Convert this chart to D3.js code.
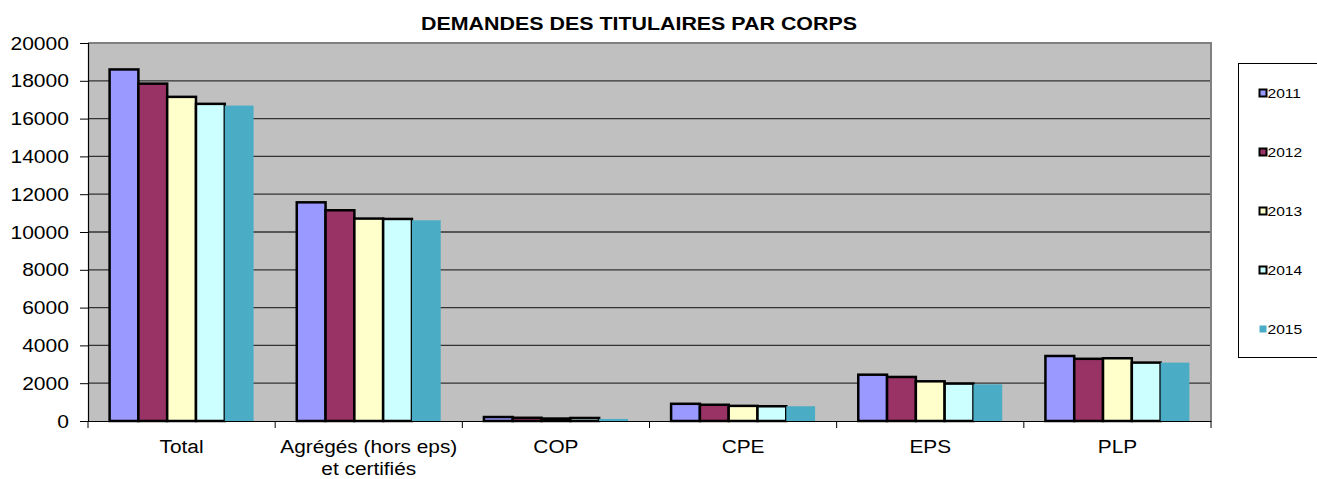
<!DOCTYPE html>
<html>
<head>
<meta charset="utf-8">
<script src="https://cdn.jsdelivr.net/npm/d3@7/dist/d3.min.js"></script>
<style>
  body { margin: 0; background: #fff; }
  text { font-family: "Liberation Sans", Arial, sans-serif; fill: #000; }
</style>
</head>
<body>
<svg id="chart" width="1317" height="479"></svg>
<script>
const categories = ["Total", "Agrégés (hors eps)\net certifiés", "COP", "CPE", "EPS", "PLP"];
const years = ["2011", "2012", "2013", "2014", "2015"];
const colors = ["#9999ff", "#993366", "#ffffcc", "#ccffff", "#4bacc6"];
const v2011 = [18600, 11570, 210, 910, 2450, 3440];
const v2012 = [17850, 11150, 170, 860, 2330, 3290];
const v2013 = [17150, 10710, 130, 800, 2100, 3320];
const v2014 = [16780, 10690, 160, 780, 1980, 3090];
const v2015 = [16690, 10620, 110, 780, 1940, 3090];
const yTicks = [0, 2000, 4000, 6000, 8000, 10000, 12000, 14000, 16000, 18000, 20000];

const series = [v2011, v2012, v2013, v2014, v2015];

// the source picture is a bit stretched sideways, so text is widened too
const SX = 1.17;
const place = (x, y) => `translate(${x},${y}) scale(${SX},1)`;

const plot = { left: 88, right: 1211, top: 43, bottom: 421 };
const svg = d3.select("#chart");

const x = d3.scaleBand().domain(categories).range([plot.left, plot.right]).paddingInner(0).paddingOuter(0);
const y = d3.scaleLinear().domain([0, 20000]).range([plot.bottom, plot.top]);
const sub = d3.scaleBand().domain(years).range([0, x.bandwidth()]).paddingOuter(0.75).paddingInner(0);

// title
svg.append("text")
  .attr("transform", place(639, 30))
  .attr("text-anchor", "middle")
  .attr("font-size", 18.3).attr("font-weight", "bold")
  .text("DEMANDES DES TITULAIRES PAR CORPS");

// plot background
svg.append("rect")
  .attr("x", plot.left).attr("y", plot.top)
  .attr("width", plot.right - plot.left).attr("height", plot.bottom - plot.top)
  .attr("fill", "#c0c0c0");

// grid lines
svg.append("g").selectAll("line")
  .data(yTicks.slice(1))
  .enter().append("line")
    .attr("x1", plot.left).attr("x2", plot.right)
    .attr("y1", d => y(d)).attr("y2", d => y(d))
    .attr("stroke", "#333").attr("stroke-width", 1.3);

// plot border top/right
svg.append("path")
  .attr("d", `M${plot.left},${plot.top}H${plot.right}V${plot.bottom}`)
  .attr("fill", "none").attr("stroke", "#808080").attr("stroke-width", 2);

// bars
series.forEach((vals, i) => {
  svg.append("g").selectAll("rect")
    .data(vals)
    .enter().append("rect")
      .attr("x", (d, j) => x(categories[j]) + sub(years[i]))
      .attr("y", d => y(d))
      .attr("width", sub.bandwidth())
      .attr("height", d => plot.bottom - y(d))
      .attr("fill", colors[i])
      .attr("stroke", i < 4 ? "#000" : "none")
      .attr("stroke-width", 2.5);
});

// y axis
const yAxis = svg.append("g")
  .attr("transform", `translate(${plot.left},0)`)
  .call(d3.axisLeft(y).tickValues(yTicks).tickSize(8).tickFormat(""));
yAxis.select(".domain").attr("stroke", "#000").attr("stroke-width", 1.2);
yAxis.selectAll(".tick line").attr("stroke", "#000");

svg.append("g").selectAll("text")
  .data(yTicks)
  .enter().append("text")
    .attr("transform", d => place(69, y(d) + 6.5))
    .attr("text-anchor", "end")
    .attr("font-size", 18)
    .text(d => d);

// x axis
const xAxis = svg.append("g")
  .attr("transform", `translate(0,${plot.bottom})`)
  .call(d3.axisBottom(x).tickSize(0).tickFormat(""));
xAxis.select(".domain").attr("stroke", "#000").attr("stroke-width", 1.2);

const bounds = categories.map(c => x(c)).concat([plot.right]);
svg.append("g").selectAll("line")
  .data(bounds)
  .enter().append("line")
    .attr("x1", d => d).attr("x2", d => d)
    .attr("y1", plot.bottom).attr("y2", plot.bottom + 7)
    .attr("stroke", "#000");

svg.append("g").selectAll("text")
  .data(categories)
  .enter().append("text")
    .attr("transform", d => place(x(d) + x.bandwidth() / 2, 452.5))
    .attr("text-anchor", "middle")
    .attr("font-size", 17.8)
    .each(function(d) {
      const lines = d.split("\n");
      d3.select(this).selectAll("tspan")
        .data(lines)
        .enter().append("tspan")
          .attr("x", 0)
          .attr("dy", (l, k) => k === 0 ? 0 : 22.5)
          .text(l => l);
    });

// legend
const legend = svg.append("g");
legend.append("rect")
  .attr("x", 1238.5).attr("y", 63.5)
  .attr("width", 100).attr("height", 294)
  .attr("fill", "#fff").attr("stroke", "#000").attr("stroke-width", 1);

const ly = d3.scalePoint().domain(years).range([93, 329]);
years.forEach((yr, i) => {
  legend.append("rect")
    .attr("x", 1259.5).attr("y", ly(yr) - 3.5)
    .attr("width", 7).attr("height", 7)
    .attr("fill", colors[i])
    .attr("stroke", i < 4 ? "#000" : "none")
    .attr("stroke-width", 2);
  legend.append("text")
    .attr("transform", place(1267.5, ly(yr) + 5))
    .attr("font-size", 13.3)
    .text(yr);
});
</script>
</body>
</html>
